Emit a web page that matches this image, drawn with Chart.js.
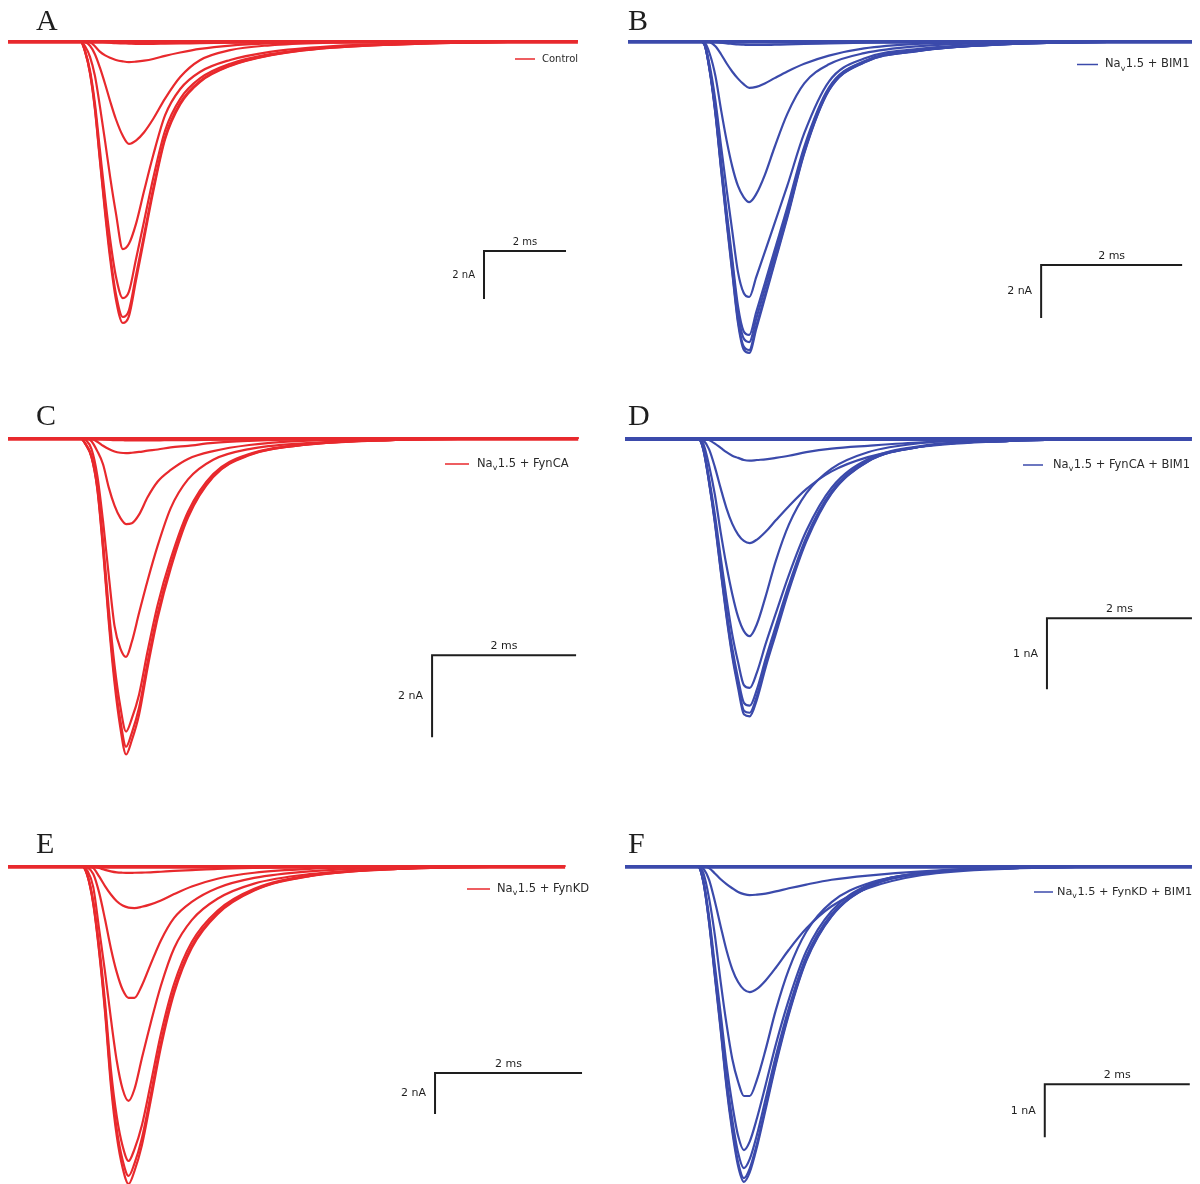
<!DOCTYPE html>
<html>
<head>
<meta charset="utf-8">
<script src="https://cdn.jsdelivr.net/npm/chart.js@4.4.1/dist/chart.umd.min.js"></script>
<style>
  html, body { margin: 0; padding: 0; background: #ffffff; }
  #fig { position: relative; width: 1200px; height: 1184px; overflow: hidden; background: #ffffff; }
  #fig canvas { position: absolute; }
</style>
</head>
<body>
<div id="fig"></div>
<script>
// Whole-cell Na+ current families (nA) for each condition, sampled in ms.
const panelLetters = ['A', 'B', 'C', 'D', 'E', 'F'];
const conditions = ['Control', 'Na_v1.5 + BIM1', 'Na_v1.5 + FynCA', 'Na_v1.5 + FynCA + BIM1', 'Na_v1.5 + FynKD', 'Na_v1.5 + FynKD + BIM1'];

// Scale bars: [ms, nA]
const scaleBarSizes = [[2, 2], [2, 2], [2, 2], [2, 1], [2, 2], [2, 1]];

const timeA = [0, 1.76, 1.88, 2.00, 2.12, 2.24, 2.37, 2.49, 2.63, 2.80, 2.95, 3.12, 3.32, 3.54, 3.83, 4.20, 4.68, 5.42, 6.39, 7.85, 10.05, 13.90];
const tracesA = [
  [0, 0, 0, 0, 0, 0, 0, 0, 0, 0, 0, 0, 0, 0, 0, 0, 0, 0, 0, 0, 0, 0],
  [-0.07, -0.07, -0.07, -0.07, -0.07, -0.07, -0.07, -0.07, -0.07, -0.07, -0.07, -0.07, -0.07, -0.07, -0.07, -0.07, -0.07, -0.07, -0.07, -0.07, -0.07, -0.07],
  [0, 0, 0, 0, -0.01, -0.03, -0.05, -0.07, -0.09, -0.1, -0.11, -0.12, -0.12, -0.12, -0.11, -0.1, -0.09, -0.07, -0.05, -0.03, -0.01, 0],
  [0, 0, 0, -0.04, -0.22, -0.44, -0.6, -0.7, -0.79, -0.85, -0.88, -0.86, -0.82, -0.75, -0.62, -0.48, -0.33, -0.19, -0.1, -0.04, -0.02, 0],
  [0, 0, -0.04, -0.2, -0.55, -1.1, -1.8, -2.5, -3.25, -3.95, -4.29, -4.15, -3.8, -3.25, -2.4, -1.5, -0.8, -0.38, -0.18, -0.07, -0.02, 0],
  [0, 0, -0.22, -0.66, -1.45, -2.7, -4.2, -5.65, -7.15, -8.67, -8.45, -7.63, -6.24, -4.77, -3.1, -2.0, -1.29, -0.79, -0.45, -0.22, -0.087, 0],
  [0, 0, -0.41, -1.23, -2.6, -4.51, -6.56, -8.25, -9.79, -10.71, -10.44, -9.1, -7.5, -5.73, -3.74, -2.41, -1.56, -0.95, -0.55, -0.26, -0.1, 0],
  [0, 0, -0.44, -1.32, -2.79, -4.85, -7.05, -8.86, -10.52, -11.5, -11.22, -9.78, -8.06, -6.16, -4.01, -2.58, -1.67, -1.02, -0.59, -0.28, -0.11, 0],
  [0, 0, -0.45, -1.35, -2.85, -4.95, -7.2, -9.05, -10.75, -11.75, -11.46, -9.99, -8.23, -6.29, -4.1, -2.64, -1.71, -1.04, -0.6, -0.29, -0.115, 0]
];

const timeB = [0, 1.00, 1.08, 1.16, 1.24, 1.32, 1.40, 1.48, 1.56, 1.64, 1.72, 1.82, 1.94, 2.08, 2.26, 2.50, 2.85, 3.35, 4.10, 5.30, 8.00];
const tracesB = [
  [0, 0, 0, 0, 0, 0, 0, 0, 0, 0, 0, 0, 0, 0, 0, 0, 0, 0, 0, 0, 0],
  [-0.06, -0.06, -0.06, -0.06, -0.06, -0.06, -0.06, -0.06, -0.06, -0.06, -0.06, -0.06, -0.06, -0.06, -0.06, -0.06, -0.06, -0.06, -0.06, -0.06, -0.06],
  [0, 0, 0, -0.01, -0.03, -0.06, -0.09, -0.11, -0.13, -0.14, -0.15, -0.15, -0.15, -0.14, -0.13, -0.11, -0.09, -0.06, -0.03, -0.01, 0],
  [0, 0, 0, -0.04, -0.2, -0.5, -0.85, -1.16, -1.42, -1.63, -1.77, -1.73, -1.6, -1.4, -1.15, -0.86, -0.55, -0.28, -0.11, -0.03, 0],
  [0, 0, -0.04, -0.49, -1.32, -2.6, -3.77, -4.75, -5.47, -5.89, -6.08, -5.77, -5.06, -4.0, -2.75, -1.6, -0.88, -0.46, -0.2, -0.07, 0],
  [0, 0, -0.09, -0.94, -2.25, -3.97, -5.62, -7.19, -8.72, -9.5, -9.66, -8.9, -7.97, -6.87, -5.46, -3.48, -1.53, -0.66, -0.31, -0.11, 0],
  [0, 0, -0.1, -1.07, -2.59, -4.56, -6.46, -8.25, -10.01, -10.95, -11.09, -10.22, -9.15, -7.89, -6.28, -3.99, -1.76, -0.76, -0.36, -0.12, 0],
  [0, 0, -0.11, -1.1, -2.65, -4.67, -6.61, -8.45, -10.26, -11.22, -11.36, -10.47, -9.37, -8.08, -6.43, -4.09, -1.8, -0.78, -0.37, -0.13, 0],
  [0, 0, -0.11, -1.13, -2.72, -4.79, -6.79, -8.68, -10.53, -11.52, -11.66, -10.75, -9.62, -8.3, -6.6, -4.2, -1.85, -0.8, -0.38, -0.13, 0],
  [0, 0, -0.11, -1.14, -2.75, -4.84, -6.86, -8.77, -10.64, -11.64, -11.77, -10.86, -9.72, -8.38, -6.67, -4.24, -1.87, -0.81, -0.38, -0.13, 0]
];

const timeC = [0, 1.00, 1.08, 1.16, 1.24, 1.32, 1.40, 1.48, 1.56, 1.64, 1.72, 1.82, 1.94, 2.08, 2.26, 2.50, 2.85, 3.35, 4.10, 5.30, 7.92];
const tracesC = [
  [0, 0, 0, 0, 0, 0, 0, 0, 0, 0, 0, 0, 0, 0, 0, 0, 0, 0, 0, 0, 0],
  [-0.04, -0.04, -0.04, -0.04, -0.04, -0.04, -0.04, -0.04, -0.04, -0.04, -0.04, -0.04, -0.04, -0.04, -0.04, -0.04, -0.04, -0.04, -0.04, -0.04, -0.04],
  [0, 0, 0, -0.01, -0.02, -0.03, -0.04, -0.05, -0.05, -0.06, -0.06, -0.06, -0.06, -0.06, -0.05, -0.05, -0.04, -0.03, -0.02, -0.01, 0],
  [0, 0, 0, -0.02, -0.09, -0.19, -0.27, -0.33, -0.36, -0.37, -0.36, -0.34, -0.31, -0.28, -0.23, -0.19, -0.12, -0.07, -0.03, -0.01, 0],
  [0, 0, 0, -0.08, -0.32, -0.64, -1.21, -1.65, -1.95, -2.1, -2.08, -1.87, -1.44, -1.06, -0.78, -0.51, -0.32, -0.17, -0.07, -0.03, 0],
  [0, 0, -0.05, -0.27, -0.91, -2.03, -3.36, -4.59, -5.13, -5.34, -4.97, -4.27, -3.47, -2.62, -1.71, -1.01, -0.53, -0.27, -0.13, -0.05, 0],
  [0, 0, -0.15, -0.44, -1.15, -2.52, -4.18, -5.55, -6.55, -7.16, -6.84, -6.26, -5.19, -4.06, -2.95, -1.8, -0.88, -0.39, -0.16, -0.05, 0],
  [0, 0, -0.16, -0.46, -1.21, -2.65, -4.39, -5.83, -6.88, -7.53, -7.19, -6.58, -5.45, -4.27, -3.1, -1.89, -0.93, -0.41, -0.17, -0.05, 0],
  [0, 0, -0.16, -0.47, -1.24, -2.72, -4.5, -5.98, -7.06, -7.72, -7.37, -6.75, -5.59, -4.38, -3.18, -1.94, -0.95, -0.42, -0.17, -0.05, 0]
];

const timeD = [0, 1.00, 1.08, 1.16, 1.24, 1.32, 1.40, 1.48, 1.56, 1.64, 1.72, 1.82, 1.94, 2.08, 2.26, 2.50, 2.85, 3.35, 4.10, 5.30, 7.82];
const tracesD = [
  [0, 0, 0, 0, 0, 0, 0, 0, 0, 0, 0, 0, 0, 0, 0, 0, 0, 0, 0, 0, 0],
  [-0.025, -0.025, -0.025, -0.025, -0.025, -0.025, -0.025, -0.025, -0.025, -0.025, -0.025, -0.025, -0.025, -0.025, -0.025, -0.025, -0.025, -0.025, -0.025, -0.025, -0.025],
  [0, 0, 0, -0.03, -0.08, -0.14, -0.2, -0.25, -0.28, -0.31, -0.32, -0.31, -0.3, -0.28, -0.25, -0.2, -0.15, -0.11, -0.06, -0.02, 0],
  [0, 0, -0.03, -0.16, -0.41, -0.71, -0.99, -1.21, -1.36, -1.45, -1.48, -1.43, -1.32, -1.16, -0.96, -0.72, -0.47, -0.27, -0.12, -0.04, 0],
  [0, 0, -0.08, -0.39, -0.8, -1.33, -1.8, -2.2, -2.52, -2.72, -2.79, -2.62, -2.23, -1.73, -1.22, -0.78, -0.43, -0.2, -0.07, -0.02, 0],
  [0, 0, -0.14, -0.57, -1.08, -1.68, -2.26, -2.77, -3.16, -3.48, -3.52, -3.3, -2.9, -2.47, -1.93, -1.31, -0.7, -0.3, -0.11, -0.04, 0],
  [0, 0, -0.15, -0.61, -1.15, -1.8, -2.42, -2.96, -3.39, -3.73, -3.77, -3.54, -3.11, -2.65, -2.07, -1.4, -0.75, -0.32, -0.12, -0.04, 0],
  [0, 0, -0.16, -0.62, -1.18, -1.85, -2.49, -3.04, -3.47, -3.84, -3.87, -3.63, -3.19, -2.72, -2.12, -1.43, -0.77, -0.33, -0.12, -0.04, 0],
  [0, 0, -0.16, -0.63, -1.2, -1.87, -2.52, -3.08, -3.52, -3.89, -3.92, -3.68, -3.23, -2.76, -2.15, -1.46, -0.78, -0.33, -0.12, -0.04, 0]
];

const timeE = [0, 1.00, 1.08, 1.16, 1.24, 1.32, 1.40, 1.48, 1.56, 1.64, 1.72, 1.82, 1.94, 2.08, 2.26, 2.50, 2.85, 3.35, 4.10, 5.30, 7.58];
const tracesE = [
  [0, 0, 0, 0, 0, 0, 0, 0, 0, 0, 0, 0, 0, 0, 0, 0, 0, 0, 0, 0, 0],
  [-0.08, -0.08, -0.08, -0.08, -0.08, -0.08, -0.08, -0.08, -0.08, -0.08, -0.08, -0.08, -0.08, -0.08, -0.08, -0.08, -0.08, -0.08, -0.08, -0.08, -0.08],
  [0, 0, 0, -0.02, -0.1, -0.19, -0.26, -0.31, -0.33, -0.34, -0.33, -0.32, -0.31, -0.28, -0.24, -0.2, -0.14, -0.09, -0.04, -0.01, 0],
  [0, 0, 0, -0.1, -0.51, -0.98, -1.39, -1.72, -1.93, -2.03, -2.05, -1.99, -1.87, -1.68, -1.37, -1.0, -0.62, -0.33, -0.14, -0.04, 0],
  [0, 0, -0.06, -0.39, -1.3, -2.6, -4.02, -5.19, -6.04, -6.43, -6.43, -5.84, -4.8, -3.63, -2.53, -1.75, -1.07, -0.58, -0.26, -0.08, 0],
  [0, 0, -0.23, -1.03, -3.09, -5.16, -7.45, -9.51, -10.89, -11.46, -10.89, -9.4, -7.68, -5.84, -4.01, -2.64, -1.6, -0.86, -0.4, -0.14, 0],
  [0, 0, -0.44, -1.73, -3.89, -6.62, -9.93, -12.23, -13.67, -14.39, -13.82, -12.67, -10.65, -8.2, -5.75, -3.71, -2.18, -1.11, -0.46, -0.13, 0],
  [0, 0, -0.46, -1.81, -4.09, -6.95, -10.43, -12.85, -14.36, -15.12, -14.52, -13.31, -11.19, -8.62, -6.05, -3.9, -2.29, -1.17, -0.49, -0.14, 0],
  [0, 0, -0.47, -1.86, -4.19, -7.13, -10.7, -13.18, -14.73, -15.51, -14.89, -13.65, -11.48, -8.84, -6.2, -4.0, -2.35, -1.2, -0.5, -0.14, 0]
];

const timeF = [0, 1.00, 1.08, 1.16, 1.24, 1.32, 1.40, 1.48, 1.56, 1.64, 1.72, 1.82, 1.94, 2.08, 2.26, 2.50, 2.85, 3.35, 4.10, 5.30, 7.82];
const tracesF = [
  [0, 0, 0, 0, 0, 0, 0, 0, 0, 0, 0, 0, 0, 0, 0, 0, 0, 0, 0, 0, 0],
  [-0.03, -0.03, -0.03, -0.03, -0.03, -0.03, -0.03, -0.03, -0.03, -0.03, -0.03, -0.03, -0.03, -0.03, -0.03, -0.03, -0.03, -0.03, -0.03, -0.03, -0.03],
  [0, 0, 0, -0.04, -0.14, -0.25, -0.34, -0.42, -0.49, -0.53, -0.55, -0.54, -0.52, -0.48, -0.42, -0.35, -0.26, -0.18, -0.1, -0.04, 0],
  [0, 0, -0.05, -0.26, -0.67, -1.14, -1.59, -1.95, -2.19, -2.33, -2.38, -2.32, -2.16, -1.92, -1.58, -1.18, -0.76, -0.42, -0.17, -0.05, 0],
  [0, 0, -0.13, -0.61, -1.31, -2.19, -2.98, -3.64, -4.07, -4.34, -4.34, -4.03, -3.46, -2.72, -1.95, -1.24, -0.68, -0.33, -0.13, -0.04, 0],
  [0, 0, -0.27, -0.96, -1.88, -2.79, -3.75, -4.5, -5.09, -5.36, -5.2, -4.76, -4.13, -3.37, -2.52, -1.61, -0.85, -0.36, -0.13, -0.04, 0],
  [0, 0, -0.29, -1.02, -2.0, -2.96, -3.99, -4.79, -5.41, -5.7, -5.53, -5.07, -4.39, -3.59, -2.68, -1.71, -0.91, -0.38, -0.13, -0.04, 0],
  [0, 0, -0.29, -1.06, -2.06, -3.06, -4.12, -4.95, -5.59, -5.89, -5.71, -5.24, -4.53, -3.71, -2.77, -1.77, -0.94, -0.4, -0.14, -0.04, 0],
  [0, 0, -0.3, -1.07, -2.09, -3.1, -4.17, -5.01, -5.66, -5.96, -5.78, -5.3, -4.59, -3.75, -2.8, -1.79, -0.95, -0.4, -0.14, -0.04, 0]
];

const RED = '#e8292d';
const BLUE = '#3b4aab';
const INK = '#1e1e1e';
const SANS = '"DejaVu Sans", sans-serif';
const SERIF = '"Liberation Serif", "DejaVu Serif", serif';

// Page layout: canvas box, trace origin (t = 0, I = 0) in page pixels, pixels per ms / per nA,
// scale-bar corner in data units, legend placement and panel letter position.
const layout = [
  { box: [0, 0, 605, 400],    origin: [8, 41],    pxMs: 41,   pxNA: 24,   bar: [11.61, -8.75], color: RED,
    legend: { line: [515, 535, 59], textX: 542, size: 10 }, labelSize: 10, letter: [36, 30] },
  { box: [605, 0, 595, 400],  origin: [628, 41],  pxMs: 70.5, pxNA: 26.5, bar: [5.86, -8.45],  color: BLUE,
    legend: { line: [1077, 1098, 64.5], textX: 1105, size: 11.5 }, labelSize: 11, letter: [628, 30] },
  { box: [0, 400, 605, 420],  origin: [8, 438],   pxMs: 72,   pxNA: 41,   bar: [5.89, -5.30],  color: RED,
    legend: { line: [445, 469, 464], textX: 477, size: 11.5 }, labelSize: 11, letter: [36, 425] },
  { box: [605, 400, 595, 420], origin: [625, 438], pxMs: 72.5, pxNA: 71,  bar: [5.82, -2.54],  color: BLUE,
    legend: { line: [1023, 1043, 465], textX: 1053, size: 11.5 }, labelSize: 11, letter: [628, 425] },
  { box: [0, 820, 605, 364],  origin: [8, 866],   pxMs: 73.5, pxNA: 20.5, bar: [5.81, -10.10], color: RED,
    legend: { line: [467, 490, 889], textX: 497, size: 11.5 }, labelSize: 11, letter: [36, 853] },
  { box: [605, 820, 595, 364], origin: [625, 866], pxMs: 72.5, pxNA: 53,  bar: [5.79, -4.12],  color: BLUE,
    legend: { line: [1034, 1053, 892], textX: 1057, size: 11.3 }, labelSize: 11, letter: [628, 853] }
];

const times = [timeA, timeB, timeC, timeD, timeE, timeF];
const traces = [tracesA, tracesB, tracesC, tracesD, tracesE, tracesF];

// Draws panel letter, legend entry (with subscript) and the scale bar.
const panelDecor = {
  id: 'panelDecor',
  afterDatasetsDraw(chart, args, o) {
    const ctx = chart.ctx;
    const xs = chart.scales.x, ys = chart.scales.y;
    const [bx, by] = o.box;
    ctx.save();

    // panel letter
    ctx.fillStyle = INK;
    ctx.font = '30px ' + SERIF;
    ctx.textAlign = 'left';
    ctx.textBaseline = 'alphabetic';
    ctx.fillText(o.letter, o.letterPos[0] - bx, o.letterPos[1] - by);

    // legend
    const lg = o.legend;
    ctx.strokeStyle = o.color;
    ctx.lineWidth = 1.5;
    ctx.beginPath();
    ctx.moveTo(lg.line[0] - bx, lg.line[2] - by);
    ctx.lineTo(lg.line[1] - bx, lg.line[2] - by);
    ctx.stroke();
    ctx.fillStyle = '#2a2a2a';
    ctx.textBaseline = 'middle';
    let x = lg.textX - bx;
    const y = lg.line[2] - by;
    const pieces = o.label.split('_');
    ctx.font = lg.size + 'px ' + SANS;
    ctx.fillText(pieces[0], x, y);
    x += ctx.measureText(pieces[0]).width;
    if (pieces.length > 1) {
      const sub = pieces[1].charAt(0);
      const rest = pieces[1].slice(1);
      ctx.font = (lg.size * 0.68) + 'px ' + SANS;
      ctx.fillText(sub, x, y + lg.size * 0.38);
      x += ctx.measureText(sub).width + 0.5;
      ctx.font = lg.size + 'px ' + SANS;
      ctx.fillText(rest, x, y);
    }

    // scale bar
    const [t0, i0] = o.bar;
    const [dt, di] = o.barSize;
    const px0 = xs.getPixelForValue(t0);
    const py0 = ys.getPixelForValue(i0);
    const px1 = xs.getPixelForValue(t0 + dt);
    const py1 = ys.getPixelForValue(i0 - di);
    ctx.strokeStyle = INK;
    ctx.lineWidth = 2;
    ctx.lineCap = 'butt';
    ctx.beginPath();
    ctx.moveTo(px1, py0);
    ctx.lineTo(px0, py0);
    ctx.lineTo(px0, py1);
    ctx.stroke();
    ctx.fillStyle = INK;
    ctx.font = o.labelSize + 'px ' + SANS;
    ctx.textAlign = 'center';
    ctx.textBaseline = 'alphabetic';
    ctx.fillText(dt + ' ms', (px0 + px1) / 2, py0 - 6);
    ctx.textAlign = 'right';
    ctx.textBaseline = 'middle';
    ctx.fillText(di + ' nA', px0 - 9, (py0 + py1) / 2);
    ctx.restore();
  }
};

const fig = document.getElementById('fig');

layout.forEach((p, k) => {
  const [left, top, w, h] = p.box;
  const canvas = document.createElement('canvas');
  canvas.width = w;
  canvas.height = h;
  canvas.style.left = left + 'px';
  canvas.style.top = top + 'px';
  canvas.style.width = w + 'px';
  canvas.style.height = h + 'px';
  fig.appendChild(canvas);

  const t = times[k];
  const datasets = traces[k].map(values => ({
    data: values.map((v, i) => ({ x: t[i], y: v })),
    borderColor: p.color,
    borderWidth: 2.2,
    pointRadius: 0,
    fill: false,
    cubicInterpolationMode: 'monotone',
    clip: false
  }));

  new Chart(canvas, {
    type: 'line',
    data: { datasets },
    options: {
      responsive: false,
      maintainAspectRatio: false,
      devicePixelRatio: 1,
      animation: false,
      events: [],
      layout: { padding: 0 },
      scales: {
        x: { type: 'linear', display: false,
             min: (left - p.origin[0]) / p.pxMs, max: (left + w - p.origin[0]) / p.pxMs },
        y: { type: 'linear', display: false,
             min: -(top + h - p.origin[1]) / p.pxNA, max: (p.origin[1] - top) / p.pxNA }
      },
      plugins: {
        legend: { display: false },
        tooltip: { enabled: false },
        panelDecor: {
          box: [left, top],
          letter: panelLetters[k],
          letterPos: p.letter,
          label: conditions[k],
          legend: p.legend,
          color: p.color,
          bar: p.bar,
          barSize: scaleBarSizes[k],
          labelSize: p.labelSize
        }
      }
    },
    plugins: [panelDecor]
  });
});
</script>
</body>
</html>
